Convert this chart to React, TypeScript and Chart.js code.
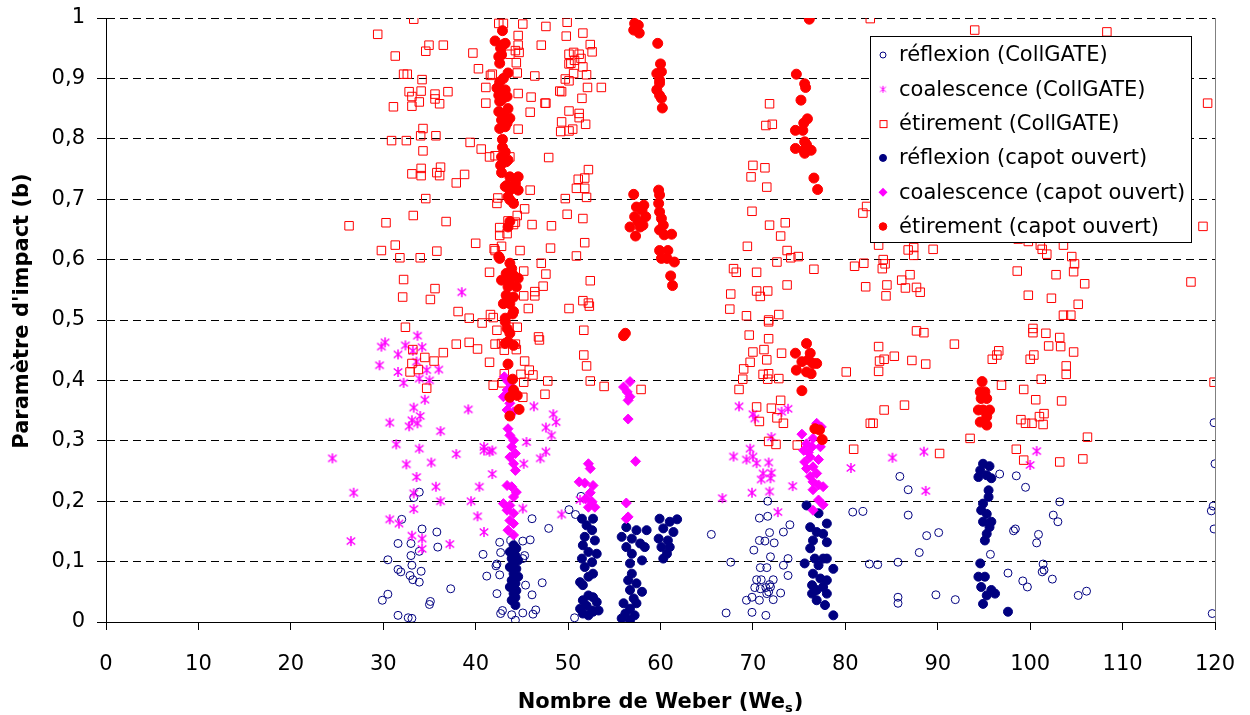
import React, { useEffect, useRef } from "react";
import { Chart, registerables } from "chart.js";

Chart.register(...registerables);

const FONT = '"DejaVu Sans", Verdana, sans-serif';

// ---- series labels
const seriesLabels = [
  "réflexion (CollGATE)",
  "coalescence (CollGATE)",
  "étirement (CollGATE)",
  "réflexion (capot ouvert)",
  "coalescence (capot ouvert)",
  "étirement (capot ouvert)",
];

const xTitleMain = "Nombre de Weber (We";
const xTitleSub = "s";
const xTitleEnd = ")";
const yTitle = "Paramètre d'impact (b)";

// ---- data: [Weber, b]
const reflexionCollgate: [number, number][] = [
  [33.9,0.215],[33.3,0.206],[32.0,0.170],[34.2,0.154],[35.8,0.149],[31.6,0.130],[33.0,0.130],[35.9,0.124],[33.9,0.117],[30.5,0.103],
  [33.0,0.110],[31.6,0.087],[31.9,0.083],[33.1,0.094],[34.1,0.084],[32.9,0.077],[33.2,0.070],[33.9,0.066],[37.3,0.055],[30.5,0.046],
  [29.9,0.036],[35.1,0.034],[35.0,0.029],[31.6,0.011],[32.7,0.007],[33.1,0.006],
  [42.6,0.132],[43.8,0.135],[45.1,0.134],[45.9,0.136],[46.1,0.171],[47.9,0.155],[40.8,0.112],[42.3,0.096],[42.2,0.093],[42.7,0.115],
  [41.2,0.076],[42.6,0.078],[45.4,0.061],[47.2,0.065],[42.3,0.047],[46.1,0.045],[42.9,0.019],[42.7,0.014],[43.9,0.012],[44.3,0.003],
  [45.1,0.015],[46.2,0.013],[46.5,0.020],[50.1,0.186],[45.3,0.110],[45.1,0.105],
  [50.8,0.178],[51.4,0.208],[50.7,0.007],[65.5,0.145],[67.6,0.099],[67.1,0.015],[69.9,0.016],[71.4,0.011],
  [71.6,0.200],[70.7,0.172],[71.6,0.175],[71.8,0.148],[73.3,0.149],[74.0,0.161],[70.7,0.135],[71.3,0.134],[72.3,0.131],[70.1,0.119],
  [71.9,0.108],[73.8,0.105],[73.3,0.094],[70.8,0.090],[71.5,0.090],[73.8,0.077],[70.4,0.070],[70.9,0.070],[72.2,0.070],[71.8,0.062],
  [70.2,0.057],[70.8,0.055],[71.4,0.057],[71.7,0.050],[71.9,0.058],[73.0,0.048],[69.3,0.036],[69.9,0.041],[70.7,0.036],[71.5,0.047],
  [72.2,0.037],[80.8,0.182],[81.9,0.183],
  [86.8,0.177],[88.8,0.143],[90.1,0.148],[88.0,0.115],[82.6,0.096],[83.5,0.095],[85.7,0.099],[85.7,0.041],[85.7,0.031],[89.8,0.045],
  [91.9,0.037],[85.9,0.241],[86.8,0.219],[95.7,0.112],[96.7,0.245],[98.5,0.242],[99.5,0.223],[103.2,0.199],[102.5,0.177],[103.0,0.166],
  [98.2,0.151],[98.4,0.154],[100.9,0.145],[100.7,0.131],[101.4,0.096],[101.5,0.086],[101.3,0.083],[97.6,0.081],[99.2,0.068],[99.7,0.058],
  [102.4,0.071],[105.2,0.044],[106.1,0.051],[119.9,0.330],[120,0.262],[119.8,0.192],[119.6,0.184],[119.9,0.154],[119.7,0.014],
];

const coalescenceCollgate: [number, number][] = [
  [38.5,0.546],
  [30.2,0.463],[29.8,0.456],[33.7,0.474],[32.4,0.458],[34.2,0.455],[31.6,0.443],[33.2,0.449],[29.6,0.425],[31.6,0.414],[32.2,0.396],
  [33.9,0.403],[34.7,0.417],[36.0,0.418],[35.0,0.400],[33.6,0.431],[34.5,0.368],[33.3,0.355],[34.0,0.341],[33.1,0.334],[33.7,0.329],
  [32.8,0.324],[30.7,0.330],[36.2,0.316],[39.2,0.352],[24.5,0.271],[31.4,0.294],[33.9,0.287],[37.9,0.278],[32.5,0.261],[35.2,0.264],
  [33.6,0.240],[40.9,0.290],[41.8,0.284],[41.5,0.282],[40.9,0.284],[41.8,0.245],[26.8,0.214],[33.3,0.213],[35.7,0.224],[40.4,0.224],
  [36.2,0.200],[39.5,0.200],[33.3,0.187],[30.7,0.170],[31.7,0.163],[40.2,0.175],[40.9,0.149],[33.1,0.143],[34.2,0.138],[37.2,0.129],
  [26.5,0.134],[34.2,0.121],[45.5,0.298],[46.3,0.357],[48.4,0.344],[48.7,0.331],[47.6,0.322],[48.2,0.309],[47.6,0.282],[47.0,0.271],
  [45.2,0.262],[45.1,0.188],[49.3,0.178],
  [51.3,0.202],[68.5,0.357],[70.0,0.344],[70.2,0.337],[73.1,0.348],[73.8,0.353],[72.0,0.306],[67.9,0.274],[69.7,0.287],[69.3,0.269],
  [70.0,0.274],[70.4,0.263],[71.7,0.264],[71.1,0.246],[72.0,0.247],[70.9,0.236],[71.9,0.238],[69.9,0.214],[71.8,0.216],[66.7,0.205],
  [74.3,0.225],[72.7,0.182],[80.6,0.255],
  [85.1,0.272],[88.5,0.282],[88.7,0.217],[100.7,0.283],[100.0,0.260],
];

const etirementCollgate: [number, number][] = [
  [33.3,0.998],[29.4,0.973],[34.95,0.955],[36.5,0.955],[34.6,0.945],[31.3,0.937],[32.2,0.907],[32.6,0.907],[34.2,0.898],[32.8,0.878],
  [34.1,0.879],[35.6,0.874],[37.0,0.878],[33.1,0.870],[33.9,0.861],[35.6,0.866],[36.1,0.858],[31.1,0.853],[33.1,0.854],[34.3,0.817],
  [34.05,0.805],[35.7,0.805],[30.9,0.797],[32.5,0.797],[34.3,0.780],[33.1,0.742],[34.1,0.751],[34.1,0.739],[36.2,0.753],[35.8,0.744],
  [36.1,0.739],[38.8,0.741],[37.9,0.727],[34.6,0.701],[26.3,0.656],[30.3,0.661],[33.25,0.673],[36.8,0.663],[29.8,0.615],[31.3,0.624],
  [31.8,0.603],[34.0,0.603],[35.8,0.614],[32.2,0.567],[35.6,0.552],[32.1,0.538],[35.1,0.534],[38.1,0.514],[39.3,0.503],
  [39.7,0.942],[40.3,0.916],[41.6,0.905],[41.8,0.907],[41.1,0.885],[41.1,0.859],[39.4,0.794],[40.6,0.783],[41.5,0.770],[42.1,0.772],
  [43.7,0.770],[42.5,0.991],[43.0,0.991],[45.1,0.990],[47.6,0.986],[49.9,0.993],[44.6,0.971],[49.8,0.970],[44.6,0.955],[47.1,0.955],
  [44.3,0.946],[44.7,0.943],[43.7,0.940],[50.1,0.940],[44.4,0.926],[50.1,0.924],[44.5,0.909],[46.4,0.904],[49.7,0.899],[50.1,0.896],
  [44.6,0.875],[46.0,0.869],[49.1,0.879],[47.5,0.859],[47.6,0.859],[45.9,0.844],[50.1,0.846],[49.3,0.828],[44.6,0.816],[49.2,0.812],
  [50.1,0.813],[47.9,0.769],[45.9,0.715],[42.4,0.702],[42.3,0.693],[45.3,0.684],[44.5,0.673],[44.3,0.662],[43.5,0.664],[44.1,0.658],
  [46.1,0.658],[48.2,0.656],[49.7,0.701],[49.9,0.675],[42.6,0.653],[42.6,0.640],[43.4,0.643],[40.0,0.627],[42.0,0.618],[42.1,0.615],
  [42.8,0.622],[44.8,0.615],[48.1,0.619],[41.5,0.579],[45.2,0.581],[47.1,0.594],[47.6,0.576],[47.3,0.556],[46.4,0.547],[46.4,0.540],
  [45.2,0.540],[45.7,0.519],[50.1,0.519],[41.6,0.509],[41.9,0.504],
  [40.7,0.495],[32.4,0.488],[42.3,0.483],[43.6,0.488],[44.5,0.488],[46.8,0.472],[46.9,0.467],[37.9,0.460],[39.3,0.463],[40.2,0.452],
  [33.2,0.451],[34.5,0.438],[35.5,0.432],[36.5,0.446],[42.1,0.460],[42.8,0.461],[43.1,0.450],[44.3,0.460],[44.4,0.451],[33.1,0.428],
  [32.9,0.414],[33.8,0.418],[34.7,0.387],[41.5,0.430],[45.3,0.432],[45.8,0.417],[46.2,0.409],[44.9,0.410],[43.1,0.411],[41.9,0.392],
  [42.9,0.396],[45.2,0.397],[45.1,0.372],[47.8,0.399],[47.5,0.377],
  [51.6,0.975],[52.4,0.956],[52.6,0.944],[50.6,0.943],[51.2,0.940],[50.7,0.930],[51.4,0.933],[50.3,0.925],[51.6,0.919],[52.0,0.906],
  [50.6,0.908],[52.1,0.885],[53.6,0.885],[49.3,0.878],[51.5,0.867],[51.2,0.842],[51.2,0.835],[51.9,0.824],[50.5,0.816],[52.2,0.749],
  [51.1,0.733],[51.8,0.735],[50.9,0.718],[51.8,0.718],[52.0,0.703],[51.6,0.668],[51.8,0.628],[50.9,0.606],[52.4,0.565],[51.6,0.532],
  [52.2,0.528],[52.3,0.523],
  [71.8,0.858],[71.4,0.822],[72.1,0.824],[70.0,0.756],[71.3,0.752],[69.8,0.737],[71.5,0.720],[69.9,0.680],[71.8,0.657],[73.5,0.661],
  [73.0,0.639],[69.4,0.622],[73.7,0.615],[74.1,0.603],[74.9,0.605],[72.6,0.596],[76.6,0.584],[67.9,0.585],[68.2,0.579],[70.4,0.579],
  [67.6,0.543],[70.4,0.548],[71.6,0.548],[70.8,0.539],[73.7,0.558],[67.5,0.518],[69.3,0.507],[71.7,0.500],[72.8,0.509],[82.7,0.999],
  [81.9,0.677],[82.3,0.688],[81.0,0.589],[82.0,0.594],[82.2,0.555],
  [51.7,0.483],[51.7,0.442],[52.0,0.424],[52.4,0.399],[53.9,0.390],[57.9,0.385],
  [71.7,0.497],[69.6,0.475],[71.7,0.469],[70.0,0.447],[71.2,0.451],[73.1,0.445],[69.7,0.430],[71.5,0.434],[69.0,0.419],[68.9,0.402],
  [71.1,0.410],[71.7,0.411],[71.6,0.402],[72.8,0.403],[68.5,0.385],
  [70.4,0.356],[72.0,0.354],[73.0,0.367],[72.6,0.338],[70.7,0.332],[73.3,0.329],[71.7,0.299],[72.5,0.294],[74.8,0.293],[80.9,0.286],
  [80.1,0.414],[82.7,0.329],
  [94.0,0.980],[108.3,0.977],[119.2,0.859],[118.7,0.655],[83.6,0.624],[86.8,0.616],[87.4,0.620],[87.4,0.607],[89.5,0.617],
  [84.1,0.600],[84.3,0.593],[84.0,0.585],[84.5,0.558],[84.4,0.540],[86.1,0.566],[87.0,0.575],[86.5,0.553],[87.7,0.554],[88.1,0.546],
  [98.7,0.634],[99.8,0.630],[101.1,0.624],[101.3,0.617],[101.8,0.609],[103.6,0.624],[104.5,0.605],[104.8,0.593],[104.7,0.580],[98.6,0.581],
  [102.8,0.575],[105.9,0.560],[99.8,0.541],[102.3,0.536],[105.2,0.526],[103.6,0.508],[104.4,0.508],[117.4,0.563],
  [87.7,0.482],[88.5,0.479],[83.6,0.456],[83.7,0.432],[84.2,0.435],[85.3,0.440],[87.2,0.433],[88.7,0.427],[83.6,0.415],[91.8,0.460],
  [100.3,0.486],[100.3,0.479],[101.7,0.478],[103.2,0.471],[102.0,0.457],[103.3,0.456],[104.7,0.447],[96.6,0.449],[96.4,0.442],[95.9,0.435],
  [100.4,0.442],[100.0,0.435],[103.9,0.424],[103.9,0.410],
  [101.2,0.402],[96.9,0.392],[99.3,0.385],[100.6,0.368],[103.4,0.366],[101.5,0.345],[101.0,0.340],[99.0,0.335],[99.5,0.329],[100.2,0.329],
  [101.4,0.327],[84.2,0.351],[86.4,0.359],[83.0,0.329],
  [93.5,0.304],[106.2,0.306],[98.5,0.286],[90.2,0.279],[99.3,0.268],[103.2,0.265],[105.7,0.270],[119.9,0.397],
];

const reflexionCapot: [number, number][] = [
  [44.1,0.127],[44.4,0.122],[43.7,0.116],[44.3,0.110],[43.9,0.105],[44.6,0.102],[44.1,0.097],[43.7,0.091],[44.4,0.088],[44.1,0.080],
  [44.6,0.075],[43.9,0.069],[44.3,0.064],[43.7,0.058],[44.4,0.052],[44.1,0.047],[44.3,0.041],[43.9,0.036],[44.3,0.028],
  [51.5,0.171],[52.7,0.171],[52.0,0.160],[52.6,0.152],[51.8,0.141],[52.9,0.135],[51.6,0.127],[53.1,0.113],[52.2,0.116],[51.5,0.105],
  [52.6,0.099],[51.8,0.091],[52.7,0.080],[52.2,0.075],[51.3,0.066],[51.6,0.061],[52.2,0.044],[52.7,0.041],[51.6,0.036],[53.1,0.033],
  [52.0,0.027],[51.3,0.022],[52.6,0.019],[53.3,0.019],[51.6,0.014],[52.2,0.011],[52.7,0.017],
  [56.3,0.157],[57.4,0.152],[55.8,0.141],[56.9,0.138],[58.5,0.152],[57.8,0.130],[56.3,0.124],[58.3,0.124],[56.9,0.113],[58.0,0.102],
  [56.7,0.097],[56.9,0.080],[56.5,0.069],[57.4,0.064],[56.7,0.053],[58.0,0.050],[57.1,0.039],[56.0,0.031],[57.4,0.031],[56.7,0.022],
  [56.2,0.014],[57.2,0.011],[56.7,0.003],[55.8,0.006],
  [59.9,0.171],[61.0,0.166],[61.8,0.170],[60.3,0.155],[61.4,0.149],[59.8,0.138],[60.8,0.135],[60.1,0.124],[61.0,0.124],[60.3,0.105],
  [60.7,0.113],
  [75.8,0.193],[77.1,0.180],[78.0,0.163],[76.2,0.157],[76.9,0.149],[77.6,0.146],[78.0,0.132],[76.5,0.135],[76.2,0.122],[76.7,0.105],
  [77.6,0.105],[78.0,0.105],[75.6,0.097],[77.1,0.094],[78.7,0.088],[76.5,0.080],[77.3,0.072],[78.0,0.069],[76.4,0.061],[77.6,0.058],
  [76.9,0.053],[76.4,0.047],[78.0,0.047],[76.9,0.036],[77.8,0.028],[78.7,0.011],
  [94.9,0.262],[95.6,0.258],[94.6,0.251],[95.3,0.243],[94.4,0.240],[95.8,0.238],[95.5,0.218],[95.5,0.207],[94.9,0.196],[94.7,0.185],
  [95.3,0.179],[95.8,0.166],[94.9,0.166],[95.6,0.157],[95.3,0.146],[95.1,0.135],[94.6,0.097],[94.4,0.075],[95.1,0.075],[94.7,0.058],
  [95.8,0.053],[95.3,0.044],[96.2,0.047],[94.9,0.030],[97.6,0.017],
];

const coalescenceCapot: [number, number][] = [
  [43.1,0.406],[43.5,0.398],[43.9,0.389],[43.4,0.384],[43.0,0.373],[43.7,0.362],[43.4,0.351],[44.1,0.348],[43.5,0.320],[43.7,0.309],
  [44.1,0.301],[43.9,0.290],[44.3,0.279],[43.7,0.273],[44.1,0.262],[44.3,0.251],[43.4,0.226],[43.9,0.224],[44.4,0.215],[44.1,0.207],
  [43.0,0.196],[43.7,0.193],[43.4,0.185],[44.1,0.180],[43.7,0.168],[44.1,0.163],[43.5,0.152],[44.1,0.144],
  [56.7,0.398],[56.0,0.389],[56.4,0.381],[56.7,0.373],[56.5,0.367],[56.5,0.336],[57.3,0.266],
  [52.2,0.262],[52.4,0.254],[51.2,0.232],[51.8,0.230],[52.7,0.226],[52.4,0.214],[51.9,0.204],[52.6,0.199],[52.2,0.190],[52.9,0.190],
  [56.3,0.197],[56.3,0.171],[56.5,0.174],
  [76.9,0.329],[77.4,0.323],[75.3,0.311],[76.5,0.304],[75.8,0.295],[76.4,0.290],[75.5,0.284],[76.0,0.281],[77.3,0.290],[76.2,0.273],
  [75.6,0.265],[77.1,0.269],[76.5,0.257],[75.8,0.254],[76.9,0.246],[76.2,0.241],[76.5,0.232],[77.1,0.227],[77.6,0.224],[76.5,0.219],
  [77.1,0.202],[77.6,0.194],[76.5,0.185],
];

const etirementCapot: [number, number][] = [
  [42.9,0.979],[42.1,0.962],[43.0,0.956],[43.2,0.958],[42.7,0.950],[42.5,0.936],[42.8,0.939],[42.6,0.925],[43.5,0.909],[43.0,0.900],
  [42.6,0.894],[42.3,0.884],[42.7,0.881],[43.2,0.881],[42.5,0.872],[43.4,0.870],[42.8,0.864],[42.6,0.862],[43.5,0.850],[42.5,0.845],
  [43.0,0.842],[43.7,0.834],[42.8,0.831],[43.4,0.826],[42.6,0.817],[43.2,0.820],[42.9,0.799],[42.9,0.786],[43.2,0.778],[42.8,0.770],
  [43.3,0.762],[42.7,0.756],[42.8,0.744],[43.5,0.765],[43.7,0.737],[44.6,0.737],[44.3,0.726],[43.2,0.721],[43.7,0.715],[44.6,0.715],
  [43.4,0.723],[43.7,0.699],[44.1,0.693],[43.5,0.704],[43.5,0.654],[43.7,0.663],[42.5,0.605],[42.6,0.602],[43.7,0.594],[43.9,0.585],
  [43.3,0.577],[44.1,0.574],[44.6,0.569],[42.8,0.566],[43.7,0.563],[44.4,0.555],[43.5,0.555],[43.3,0.541],[44.1,0.538],[43.0,0.527],
  [43.7,0.527],[44.1,0.514],[43.2,0.503],
  [44.0,0.510],[43.2,0.497],[43.4,0.486],[43.7,0.478],[43.5,0.464],[44.1,0.458],[43.2,0.461],[43.5,0.427],[44.0,0.402],[44.1,0.384],
  [44.5,0.375],[43.7,0.372],[44.7,0.352],[43.7,0.341],
  [57.2,0.991],[57.6,0.988],[57.1,0.980],[57.7,0.975],[57.4,0.983],[59.7,0.958],[60.0,0.924],[59.6,0.908],[60.1,0.911],[59.9,0.897],
  [59.9,0.892],[59.6,0.881],[59.9,0.872],[60.1,0.867],[60.2,0.851],[76.1,0.998],[74.7,0.907],[75.6,0.891],[75.7,0.885],[75.2,0.864],
  [75.9,0.833],[75.5,0.826],[74.6,0.814],[75.4,0.814],[75.6,0.795],[75.8,0.790],[74.6,0.784],[75.5,0.781],[76.3,0.781],[75.6,0.776],
  [76.6,0.735],[77.0,0.716],
  [57.1,0.708],[57.4,0.687],[58.2,0.690],[58.0,0.682],[57.2,0.671],[58.4,0.671],[57.6,0.663],[56.7,0.654],[57.8,0.654],[57.3,0.639],
  [58.1,0.657],
  [59.8,0.715],[59.9,0.707],[59.8,0.693],[59.9,0.679],[60.1,0.668],[60.3,0.657],[59.9,0.649],[60.4,0.641],[61.2,0.642],[59.9,0.615],
  [60.8,0.615],[60.1,0.602],[60.7,0.602],[61.5,0.596],[61.1,0.573],[61.3,0.557],
  [56.2,0.478],[56.0,0.474],[75.8,0.461],[76.2,0.445],[74.6,0.445],[76.0,0.434],[75.3,0.431],[76.5,0.428],[74.7,0.417],[75.8,0.414],
  [76.3,0.411],[76.9,0.428],[75.3,0.383],[76.7,0.320],[77.2,0.318],[77.5,0.302],
  [94.8,0.398],[94.6,0.381],[95.1,0.381],[94.7,0.370],[95.3,0.370],[94.4,0.351],[94.9,0.351],[95.6,0.351],[95.3,0.340],[94.6,0.331],
  [95.3,0.326],
];

const NAVY = "#000080";
const MAGENTA = "#FF00FF";
const RED = "#FF0000";

function makeStar(size: number, color: string, lw: number): HTMLCanvasElement {
  const c = document.createElement("canvas");
  c.width = size;
  c.height = size;
  const g = c.getContext("2d")!;
  const m = size / 2;
  const h = size / 2 - 1;
  g.strokeStyle = color;
  g.lineWidth = lw;
  g.beginPath();
  g.moveTo(m, m - h);
  g.lineTo(m, m + h);
  g.moveTo(m - h * 0.85, m - h * 0.7);
  g.lineTo(m + h * 0.85, m + h * 0.7);
  g.moveTo(m + h * 0.85, m - h * 0.7);
  g.lineTo(m - h * 0.85, m + h * 0.7);
  g.stroke();
  return c;
}

const toPts = (arr: [number, number][]) => arr.map(([x, y]) => ({ x, y }));

export default function App() {
  const ref = useRef<HTMLCanvasElement | null>(null);

  useEffect(() => {
    if (!ref.current) return;
    const star = makeStar(12, MAGENTA, 1.5);
    const legendStar = makeStar(9, MAGENTA, 1);

    const markers = [
      { style: "circle", r: 3, fill: false, color: NAVY },
      { style: "star", r: 4, fill: false, color: MAGENTA },
      { style: "rect", r: 3.5, fill: false, color: RED },
      { style: "circle", r: 3.5, fill: true, color: NAVY },
      { style: "diamond", r: 4.5, fill: true, color: MAGENTA },
      { style: "circle", r: 3.8, fill: true, color: RED },
    ];

    const overlay = {
      id: "overlay",
      afterDraw(chart: any) {
        const ctx: CanvasRenderingContext2D = chart.ctx;
        const ca = chart.chartArea;
        ctx.save();
        // right border of plot area
        ctx.strokeStyle = "#808080";
        ctx.lineWidth = 1;
        ctx.setLineDash([]);
        const rx = Math.round(ca.right) + 0.5;
        ctx.beginPath();
        ctx.moveTo(rx, ca.top);
        ctx.lineTo(rx, ca.bottom);
        ctx.stroke();

        // x title with subscript
        ctx.fillStyle = "#000";
        ctx.textBaseline = "alphabetic";
        ctx.textAlign = "left";
        const bold = `bold 21px ${FONT}`;
        const subFont = `bold 13px ${FONT}`;
        ctx.font = bold;
        const w1 = ctx.measureText(xTitleMain).width;
        const w3 = ctx.measureText(xTitleEnd).width;
        ctx.font = subFont;
        const w2 = ctx.measureText(xTitleSub).width;
        const total = w1 + w2 + w3 + 1;
        const cx = (ca.left + ca.right) / 2;
        let tx = cx - total / 2;
        const base = 708;
        ctx.font = bold;
        ctx.fillText(xTitleMain, tx, base);
        tx += w1;
        ctx.font = subFont;
        ctx.fillText(xTitleSub, tx, base + 4);
        tx += w2 + 1;
        ctx.font = bold;
        ctx.fillText(xTitleEnd, tx, base);

        // y title
        ctx.save();
        ctx.translate(23, 311);
        ctx.rotate(-Math.PI / 2);
        ctx.textAlign = "center";
        ctx.textBaseline = "middle";
        ctx.font = bold;
        ctx.fillText(yTitle, 0, 0);
        ctx.restore();

        // legend box
        const lx = 870.5, ly = 36.5, lw = 321, lh = 206;
        ctx.fillStyle = "#fff";
        ctx.fillRect(lx, ly, lw, lh);
        ctx.strokeStyle = "#000";
        ctx.lineWidth = 1;
        ctx.strokeRect(lx, ly, lw, lh);
        ctx.font = `21px ${FONT}`;
        ctx.textBaseline = "middle";
        ctx.textAlign = "left";
        seriesLabels.forEach((label, i) => {
          const y = 55 + i * 34.3;
          const mx = 883;
          const mk = markers[i];
          ctx.strokeStyle = mk.color;
          ctx.fillStyle = mk.color;
          ctx.lineWidth = 1;
          if (mk.style === "circle") {
            ctx.beginPath();
            ctx.arc(mx, y, mk.r, 0, Math.PI * 2);
            if (mk.fill) ctx.fill();
            ctx.stroke();
          } else if (mk.style === "rect") {
            ctx.strokeRect(mx - mk.r + 0.5, y - mk.r + 0.5, mk.r * 2, mk.r * 2);
          } else if (mk.style === "diamond") {
            ctx.beginPath();
            ctx.moveTo(mx, y - mk.r);
            ctx.lineTo(mx + mk.r, y);
            ctx.lineTo(mx, y + mk.r);
            ctx.lineTo(mx - mk.r, y);
            ctx.closePath();
            ctx.fill();
          } else if (mk.style === "star") {
            ctx.drawImage(legendStar, mx - 4.5, y - 4.5);
          }
          ctx.fillStyle = "#000";
          ctx.fillText(label, 899, y + 1);
        });
        ctx.restore();
      },
    };

    const yLabel = (v: any) => {
      const n = Math.round(Number(v) * 10) / 10;
      if (n === 0) return "0";
      if (n === 1) return "1";
      return n.toFixed(1).replace(".", ",");
    };

    const chart = new Chart(ref.current, {
      type: "scatter",
      data: {
        datasets: [
          {
            label: seriesLabels[0],
            data: toPts(reflexionCollgate),
            pointStyle: "circle",
            pointRadius: 4,
            borderWidth: 1,
            borderColor: NAVY,
            backgroundColor: "rgba(0,0,0,0)",
            order: 5,
          },
          {
            label: seriesLabels[1],
            data: toPts(coalescenceCollgate),
            pointStyle: star as any,
            pointRadius: 5,
            borderColor: MAGENTA,
            backgroundColor: MAGENTA,
            order: 4,
          },
          {
            label: seriesLabels[2],
            data: toPts(etirementCollgate),
            pointStyle: "rect",
            pointRadius: 6,
            borderWidth: 1,
            borderColor: RED,
            backgroundColor: "rgba(0,0,0,0)",
            order: 3,
          },
          {
            label: seriesLabels[3],
            data: toPts(reflexionCapot),
            pointStyle: "circle",
            pointRadius: 4.5,
            borderWidth: 1,
            borderColor: NAVY,
            backgroundColor: NAVY,
            order: 2,
          },
          {
            label: seriesLabels[4],
            data: toPts(coalescenceCapot),
            pointStyle: "rectRot",
            pointRadius: 5,
            borderWidth: 1,
            borderColor: MAGENTA,
            backgroundColor: MAGENTA,
            order: 1,
          },
          {
            label: seriesLabels[5],
            data: toPts(etirementCapot),
            pointStyle: "circle",
            pointRadius: 5,
            borderWidth: 1,
            borderColor: RED,
            backgroundColor: RED,
            order: 0,
          },
        ],
      },
      options: {
        animation: false,
        responsive: false,
        devicePixelRatio: 1,
        events: [],
        layout: { padding: { top: 18, right: 35, left: 0, bottom: 0 } },
        plugins: {
          legend: { display: false },
          tooltip: { enabled: false },
        },
        scales: {
          x: {
            type: "linear",
            min: 0,
            max: 120,
            ticks: {
              stepSize: 10,
              color: "#000",
              font: { size: 21, family: FONT },
              padding: 22,
              maxRotation: 0,
              autoSkip: false,
            },
            grid: {
              drawOnChartArea: false,
              drawTicks: true,
              tickLength: 8,
              color: "#000",
              tickColor: "#000",
            },
            border: { display: true, color: "#000", width: 1 },
            afterFit: (s: any) => {
              s.height = 93;
              s.paddingLeft = 0;
              s.paddingRight = 0;
            },
          },
          y: {
            type: "linear",
            min: 0,
            max: 1,
            ticks: {
              stepSize: 0.1,
              color: "#000",
              font: { size: 21, family: FONT },
              padding: 12,
              callback: yLabel,
              autoSkip: false,
            },
            grid: {
              color: "#000",
              drawTicks: true,
              tickLength: 9,
              tickColor: "#000",
              tickBorderDash: [],
            },
            border: { display: true, color: "#000", width: 1, dash: [8, 5] },
            afterFit: (s: any) => {
              s.width = 106;
              s.paddingTop = 0;
              s.paddingBottom = 0;
            },
          },
        },
      } as any,
      plugins: [overlay],
    });
    return () => chart.destroy();
  }, []);

  return (
    <div
      style={{
        position: "fixed",
        left: 0,
        top: 0,
        width: 1250,
        height: 715,
        background: "#fff",
      }}
    >
      <canvas ref={ref} width={1250} height={715} style={{ display: "block" }} />
    </div>
  );
}
